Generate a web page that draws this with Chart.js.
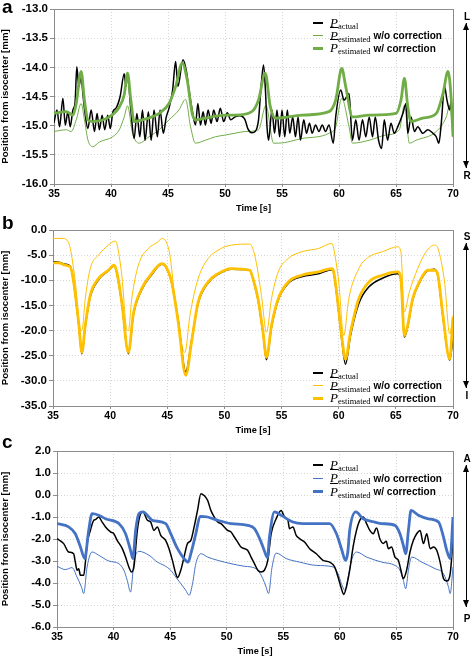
<!DOCTYPE html>
<html lang="en">
  <head>
    <meta charset="utf-8" />
    <title>Position from isocenter</title>
    <script src="https://cdn.jsdelivr.net/npm/chart.js/dist/chart.umd.min.js"></script>
    <style>
      * {
        margin: 0;
        padding: 0;
      }
      body {
        width: 472px;
        height: 657px;
        position: relative;
        overflow: hidden;
        background: #fff;
        font-family: "Liberation Sans", Arial, sans-serif;
        color: #000;
      }
      canvas {
        position: absolute;
        left: 0;
      }
      .tag {
        position: absolute;
        left: 2px;
        font-weight: bold;
        font-size: 19px;
        line-height: 1;
      }
      .dir {
        position: absolute;
        left: 461px;
        width: 12px;
        text-align: center;
        font-weight: bold;
        font-size: 10px;
        line-height: 1;
      }
      .arrow {
        position: absolute;
        left: 466px;
        width: 1px;
        background: #000;
      }
      .arrow::before,
      .arrow::after {
        content: "";
        position: absolute;
        left: -3px;
        border-left: 3.5px solid transparent;
        border-right: 3.5px solid transparent;
      }
      .arrow::before {
        top: 0;
        border-bottom: 7px solid #000;
      }
      .arrow::after {
        bottom: 0;
        border-top: 7px solid #000;
      }
      .legend {
        position: absolute;
        left: 313px;
        font-weight: bold;
        font-size: 10px;
      }
      .legend .row {
        display: flex;
        align-items: center;
        white-space: nowrap;
        height: 12.5px;
      }
      .sw {
        width: 10px;
        margin-right: 7px;
      }
      .p {
        font-family: "Liberation Serif", serif;
        font-style: italic;
        font-weight: normal;
        font-size: 13px;
      }
      .bar {
        text-decoration: overline;
      }
      .sub {
        font-family: "Liberation Serif", serif;
        font-weight: normal;
        font-size: 8.5px;
        position: relative;
        top: 3px;
      }
      .txt {
        margin-left: 3px;
      }
    </style>
  </head>
  <body>
    <canvas id="chartA" width="472" height="215" style="top: 0px"></canvas>
    <canvas id="chartB" width="472" height="222" style="top: 215px"></canvas>
    <canvas id="chartC" width="472" height="220" style="top: 437px"></canvas>

    <div class="tag" style="top: -3px">a</div>
    <div class="tag" style="top: 213px">b</div>
    <div class="tag" style="top: 432px">c</div>

    <div class="dir" style="top: 12px">L</div>
    <div class="arrow" style="top: 23px; height: 145px"></div>
    <div class="dir" style="top: 171px">R</div>
    <div class="dir" style="top: 232px">S</div>
    <div class="arrow" style="top: 243px; height: 145px"></div>
    <div class="dir" style="top: 391px">I</div>
    <div class="dir" style="top: 454px">A</div>
    <div class="arrow" style="top: 465px; height: 142px"></div>
    <div class="dir" style="top: 614px">P</div>

    <div class="legend" id="legendA" style="top: 17px"></div>
    <div class="legend" id="legendB" style="top: 367px"></div>
    <div class="legend" id="legendC" style="top: 458px"></div>

    <script>
      // [time s, position mm]
      const aActual = [[35.0,-14.95],[35.26,-14.73],[35.49,-15.02],[35.78,-14.53],[35.99,-14.99],[36.22,-14.76],[36.42,-15.02],[36.66,-14.73],[36.85,-14.6],[37.0,-13.99],[37.18,-14.33],[37.38,-14.16],[37.53,-14.45],[37.7,-14.75],[37.97,-15.05],[38.26,-14.73],[38.55,-15.1],[38.78,-14.79],[38.98,-15.07],[39.22,-14.82],[39.45,-15.07],[39.71,-14.82],[39.94,-15.05],[40.17,-14.76],[40.44,-14.7],[40.8,-14.5],[41.16,-14.11],[41.31,-14.33],[41.45,-14.13],[41.74,-14.73],[42.03,-15.22],[42.27,-14.79],[42.53,-15.19],[42.76,-14.73],[42.99,-15.25],[43.28,-14.76],[43.52,-15.25],[43.78,-14.73],[44.07,-15.19],[44.3,-14.73],[44.59,-15.13],[44.85,-14.85],[45.09,-14.7],[45.4,-14.4],[45.67,-13.9],[45.87,-14.33],[46.31,-13.87],[46.6,-14.05],[46.85,-14.4],[47.12,-14.73],[47.41,-14.99],[47.62,-14.62],[47.85,-14.99],[48.08,-14.76],[48.28,-14.99],[48.52,-14.73],[48.78,-14.96],[49.01,-14.73],[49.3,-14.93],[49.59,-14.7],[49.88,-14.93],[50.2,-14.78],[50.5,-14.9],[50.88,-14.85],[51.3,-14.83],[51.76,-14.9],[52.0,-15.05],[52.35,-15.12],[52.65,-15.1],[52.94,-14.9],[53.1,-14.5],[53.38,-13.96],[53.55,-14.4],[53.68,-15.0],[53.82,-15.25],[54.12,-14.73],[54.35,-15.13],[54.56,-14.73],[54.79,-15.19],[55.0,-14.73],[55.24,-15.19],[55.47,-14.73],[55.68,-15.13],[55.94,-14.85],[56.18,-15.19],[56.41,-14.85],[56.62,-15.25],[56.91,-14.9],[57.15,-15.13],[57.41,-14.96],[57.65,-15.13],[57.94,-14.99],[58.24,-15.1],[58.53,-14.99],[58.82,-15.1],[59.12,-14.99],[59.5,-15.3],[59.71,-14.85],[60.15,-14.39],[60.44,-14.56],[60.88,-14.45],[61.18,-15.25],[61.47,-14.9],[61.76,-15.25],[62.06,-14.9],[62.35,-15.19],[62.65,-14.85],[62.94,-15.19],[63.18,-14.85],[63.47,-15.25],[63.74,-15.39],[63.97,-14.9],[64.26,-15.25],[64.56,-14.96],[64.85,-15.13],[65.15,-15.02],[65.59,-14.8],[65.88,-14.62],[66.03,-15.13],[66.32,-14.85],[66.62,-15.1],[66.91,-15.02],[67.35,-15.13],[67.79,-15.07],[68.24,-15.13],[68.53,-15.19],[68.76,-15.3],[68.97,-14.96],[69.26,-14.33],[69.47,-14.56],[69.71,-14.73],[69.85,-14.56],[70.0,-15.07]];
      const aNoCorr = [[35.0,-15.1],[36.08,-15.07],[36.51,-15.1],[36.95,-14.9],[37.38,-14.62],[37.67,-14.9],[37.97,-15.24],[38.4,-15.36],[38.98,-15.28],[40.15,-15.19],[40.73,-15.07],[41.16,-14.85],[41.45,-14.66],[41.89,-15.13],[42.47,-15.3],[43.34,-15.19],[44.22,-15.07],[45.09,-14.9],[45.96,-14.73],[46.54,-14.55],[46.98,-15.02],[47.41,-15.3],[48.28,-15.25],[49.16,-15.19],[50.03,-15.16],[50.88,-15.13],[51.76,-15.1],[52.94,-15.07],[53.59,-14.65],[54.26,-15.3],[54.71,-15.3],[56.76,-15.22],[59.12,-15.13],[59.71,-15.02],[60.24,-14.53],[60.88,-15.02],[61.18,-15.3],[62.65,-15.25],[64.12,-15.16],[65.29,-15.07],[65.74,-14.65],[66.18,-15.3],[66.76,-15.25],[68.53,-15.1],[69.41,-14.85],[69.71,-14.65],[70.0,-15.19]];
      const aCorr = [[35.0,-14.79],[36.08,-14.76],[36.66,-14.82],[36.95,-14.62],[37.38,-14.07],[37.67,-14.56],[37.97,-14.9],[38.4,-14.93],[39.85,-14.85],[40.73,-14.68],[41.16,-14.47],[41.45,-14.1],[41.74,-14.56],[42.03,-14.93],[42.76,-14.9],[44.22,-14.79],[45.09,-14.62],[45.67,-14.33],[46.25,-13.93],[46.69,-14.22],[47.12,-14.79],[47.41,-14.9],[48.28,-14.87],[50.03,-14.82],[50.88,-14.82],[52.35,-14.76],[52.94,-14.56],[53.53,-14.1],[53.97,-14.67],[54.41,-14.87],[56.76,-14.82],[59.12,-14.76],[59.71,-14.56],[60.24,-14.02],[60.59,-14.33],[61.18,-14.85],[62.65,-14.82],[65.0,-14.79],[65.44,-14.56],[65.74,-14.19],[66.03,-14.67],[66.32,-14.93],[67.35,-14.87],[68.53,-14.79],[69.12,-14.45],[69.56,-14.07],[69.85,-14.56],[70.0,-15.19]];

      const bActual = [[35.0,-6.3],[35.5,-6.4],[36.08,-6.8],[36.51,-7.2],[36.81,-10.5],[37.24,-18.6],[37.53,-24.6],[37.82,-19.2],[38.26,-13.3],[38.98,-9.9],[39.85,-8.1],[40.35,-7.1],[40.58,-8.5],[41.02,-14.6],[41.6,-24.6],[42.03,-16.9],[42.76,-11.9],[43.63,-8.9],[44.51,-6.8],[44.8,-7.1],[45.38,-10.5],[45.96,-18.0],[46.62,-28.2],[47.12,-22.0],[47.7,-14.6],[48.58,-10.5],[49.45,-8.8],[50.61,-7.8],[52.21,-7.9],[52.5,-9.8],[52.94,-13.9],[53.38,-20.6],[53.68,-25.8],[54.12,-19.3],[54.71,-13.9],[55.59,-10.6],[56.76,-9.3],[58.24,-8.7],[59.41,-7.9],[59.56,-8.5],[59.85,-13.3],[60.29,-22.2],[60.59,-26.7],[61.03,-21.0],[61.76,-14.6],[62.65,-11.3],[63.82,-9.6],[65.15,-8.7],[65.44,-9.9],[65.74,-21.3],[66.03,-19.3],[66.47,-13.9],[67.06,-10.5],[67.79,-8.1],[68.38,-7.8],[68.68,-9.1],[69.12,-17.3],[69.71,-25.9],[70.0,-21.5]];
      const bNoCorr = [[35.0,-1.67],[35.78,-1.67],[36.22,-2.0],[36.51,-3.67],[36.95,-10.33],[37.38,-19.67],[37.53,-20.0],[37.82,-13.67],[38.26,-7.67],[38.98,-5.0],[39.85,-3.0],[40.44,-2.2],[40.58,-2.67],[41.02,-9.0],[41.45,-19.67],[41.6,-20.0],[41.89,-13.67],[42.47,-7.0],[43.34,-3.67],[44.22,-2.33],[44.51,-1.67],[44.8,-2.0],[45.23,-5.0],[45.67,-13.67],[46.4,-24.0],[46.54,-24.33],[46.98,-17.0],[47.7,-9.67],[48.58,-5.67],[49.45,-4.0],[50.61,-3.0],[52.21,-2.8],[52.65,-5.0],[53.24,-13.0],[53.68,-20.33],[54.12,-13.67],[54.71,-8.33],[55.59,-5.67],[56.76,-4.33],[58.24,-3.67],[59.41,-2.67],[59.56,-3.67],[60.0,-10.33],[60.44,-21.0],[60.88,-13.67],[61.76,-7.67],[62.65,-5.33],[63.82,-4.33],[65.15,-3.33],[65.44,-4.33],[65.74,-16.33],[66.18,-12.33],[66.91,-7.67],[67.65,-4.33],[68.38,-3.0],[68.68,-3.67],[69.26,-10.33],[69.71,-20.67],[70.0,-17.0]];
      const bCorr = [[35.0,-6.53],[35.5,-6.53],[36.08,-7.0],[36.51,-7.33],[36.81,-10.33],[37.24,-18.33],[37.53,-24.33],[37.82,-19.0],[38.26,-13.0],[38.98,-9.67],[39.85,-8.0],[40.35,-7.0],[40.58,-8.33],[41.02,-14.33],[41.6,-24.33],[42.03,-16.67],[42.76,-11.67],[43.63,-8.67],[44.51,-6.67],[44.8,-7.0],[45.38,-10.33],[45.96,-18.33],[46.62,-28.9],[47.12,-22.33],[47.7,-14.33],[48.58,-10.33],[49.45,-8.67],[50.61,-7.67],[52.21,-8.0],[52.5,-9.67],[52.94,-13.67],[53.38,-20.33],[53.68,-25.33],[54.12,-19.0],[54.71,-13.67],[55.59,-10.33],[56.76,-9.0],[58.24,-8.33],[59.41,-7.67],[59.56,-8.33],[59.85,-13.0],[60.29,-21.67],[60.59,-25.67],[61.03,-20.33],[61.76,-13.67],[62.65,-10.33],[63.82,-9.0],[65.15,-8.33],[65.44,-9.67],[65.74,-21.0],[66.03,-19.0],[66.47,-13.67],[67.06,-10.33],[67.79,-8.0],[68.38,-8.0],[68.68,-9.0],[69.12,-17.0],[69.71,-25.67],[70.0,-17.33]];

      const cActual = [[35.0,-1.98],[35.59,-2.21],[36.03,-2.59],[36.47,-2.67],[36.62,-3.05],[36.77,-3.42],[36.92,-3.35],[37.07,-3.65],[37.36,-3.65],[37.51,-3.05],[37.66,-2.21],[37.95,-1.61],[38.25,-1.15],[38.4,-1.12],[38.69,-1.0],[38.99,-1.23],[39.29,-1.45],[39.73,-1.68],[40.02,-1.76],[40.32,-2.06],[40.77,-2.44],[41.06,-2.82],[41.35,-3.27],[41.59,-3.5],[41.8,-3.27],[42.1,-1.61],[42.39,-0.85],[42.6,-0.77],[42.99,-1.15],[43.28,-1.23],[43.57,-1.61],[43.87,-1.45],[44.17,-1.83],[44.6,-2.06],[44.9,-2.44],[45.2,-2.97],[45.5,-3.58],[45.65,-3.76],[45.94,-3.42],[46.23,-2.82],[46.53,-2.21],[46.83,-2.06],[47.12,-1.45],[47.42,-0.7],[47.72,0.06],[48.0,-0.02],[48.31,-0.24],[48.6,-0.7],[48.9,-1.0],[49.2,-1.23],[49.49,-1.3],[49.78,-1.45],[50.08,-1.61],[50.38,-1.68],[50.67,-1.91],[50.97,-2.14],[51.26,-2.36],[51.56,-2.44],[51.86,-2.52],[52.15,-2.82],[52.45,-3.12],[52.75,-3.42],[53.04,-3.5],[53.33,-3.42],[53.63,-2.97],[53.93,-1.76],[54.37,-1.08],[54.81,-0.7],[55.11,-1.0],[55.41,-1.15],[55.55,-1.53],[55.85,-1.45],[56.14,-1.83],[56.44,-1.98],[56.88,-2.14],[57.33,-2.44],[57.92,-2.67],[58.51,-2.97],[59.1,-3.05],[59.54,-3.27],[59.84,-3.73],[60.14,-4.26],[60.34,-4.52],[60.58,-4.18],[60.87,-3.42],[61.17,-2.36],[61.47,-1.61],[61.76,-1.15],[62.06,-1.0],[62.36,-1.3],[62.65,-1.61],[62.95,-1.76],[63.24,-1.5],[63.54,-2.0],[63.84,-2.2],[64.1,-2.1],[64.28,-2.44],[64.57,-2.36],[64.87,-2.82],[65.17,-2.97],[65.4,-3.42],[65.61,-3.8],[65.9,-3.42],[66.2,-2.59],[66.5,-2.06],[66.79,-1.76],[67.09,-1.61],[67.39,-2.21],[67.68,-1.76],[67.98,-2.44],[68.27,-2.36],[68.57,-2.52],[68.86,-3.05],[69.16,-3.8],[69.45,-3.91],[69.75,-3.58],[70.0,-2.06]];
      const cNoCorr = [[35.0,-3.24],[35.74,-3.39],[36.33,-3.3],[36.77,-3.73],[37.16,-4.18],[37.36,-4.48],[37.66,-3.27],[38.1,-2.59],[38.69,-2.74],[39.58,-3.0],[40.47,-3.12],[40.91,-3.42],[41.21,-3.88],[41.5,-4.41],[41.8,-3.05],[42.24,-2.56],[43.13,-2.74],[43.87,-3.05],[44.46,-3.2],[45.05,-3.42],[45.5,-3.73],[45.94,-4.03],[46.38,-4.33],[46.68,-4.56],[46.98,-4.03],[47.27,-3.12],[47.72,-2.67],[48.31,-2.82],[49.2,-2.97],[50.38,-3.12],[51.56,-3.24],[52.15,-3.27],[52.75,-3.42],[53.19,-3.8],[53.48,-4.18],[53.7,-4.48],[54.0,-3.3],[54.37,-2.64],[55.26,-2.89],[56.44,-3.05],[57.92,-3.2],[59.4,-3.27],[59.84,-3.58],[60.14,-4.03],[60.45,-4.33],[60.73,-3.73],[61.03,-2.97],[61.47,-2.59],[62.36,-2.82],[63.69,-3.05],[64.87,-3.2],[65.31,-3.42],[65.61,-3.88],[65.82,-4.26],[66.06,-3.42],[66.35,-2.82],[67.24,-3.05],[68.42,-3.35],[69.16,-3.58],[69.6,-4.18],[69.75,-4.48],[70.0,-3.27]];
      const cCorr = [[35.0,-1.3],[36.03,-1.45],[36.62,-1.76],[37.07,-2.36],[37.45,-2.89],[37.8,-1.61],[38.1,-0.85],[38.69,-0.92],[39.29,-1.08],[40.47,-1.3],[41.06,-1.76],[41.5,-2.52],[41.71,-2.89],[41.95,-1.61],[42.24,-0.85],[42.6,-0.77],[43.43,-1.15],[44.61,-1.3],[45.05,-1.76],[45.65,-2.44],[46.23,-2.89],[46.59,-3.05],[46.83,-2.67],[47.27,-1.76],[47.65,-0.97],[48.31,-1.0],[49.2,-1.15],[50.38,-1.3],[51.86,-1.38],[52.45,-1.53],[53.04,-2.14],[53.3,-2.5],[53.6,-2.85],[53.78,-1.9],[54.22,-0.77],[54.81,-0.92],[55.85,-1.23],[56.7,-1.3],[58.0,-1.3],[59.1,-1.3],[59.7,-1.76],[60.14,-2.44],[60.5,-2.97],[60.7,-2.6],[60.87,-1.6],[61.41,-0.77],[62.06,-1.08],[63.09,-1.23],[63.69,-1.3],[64.87,-1.38],[65.31,-1.76],[65.61,-2.29],[65.82,-2.67],[66.06,-1.61],[66.29,-0.7],[66.94,-0.92],[67.83,-1.08],[68.72,-1.23],[69.16,-1.91],[69.45,-2.52],[69.75,-2.89],[70.0,-1.0]];

      const GREEN = "#70ad47";
      const GOLD = "#ffc000";
      const BLUE = "#4472c4";
      const AXIS = "#8c8c8c";
      const FONT = "'Liberation Sans', Arial, sans-serif";

      // solid box round the plot area, drawn under the lines
      const framePlugin = {
        id: "frame",
        beforeDatasetsDraw(chart) {
          const { ctx, chartArea: a } = chart;
          ctx.save();
          ctx.strokeStyle = AXIS;
          ctx.lineWidth = 1;
          ctx.strokeRect(Math.round(a.left) + 0.5, Math.round(a.top) + 0.5, Math.round(a.right - a.left), Math.round(a.bottom - a.top));
          ctx.restore();
        },
      };

      const toPoints = (rows) => rows.map(([x, y]) => ({ x: x, y: y }));

      function makeChart(id, color, series, y, pad) {
        const [actual, noCorr, corr] = series;
        return new Chart(document.getElementById(id), {
          type: "line",
          data: {
            datasets: [
              { data: toPoints(corr), borderColor: color, borderWidth: 2.8, order: 0 },
              { data: toPoints(actual), borderColor: "#000", borderWidth: 1.5, order: 1 },
              { data: toPoints(noCorr), borderColor: color, borderWidth: 1, order: 2 },
            ],
          },
          options: {
            responsive: false,
            animation: false,
            events: [],
            layout: { padding: { left: 0, top: pad.top, right: 19, bottom: pad.bottom } },
            elements: {
              point: { radius: 0 },
              line: { cubicInterpolationMode: "monotone", fill: false, borderJoinStyle: "round" },
            },
            plugins: { legend: { display: false }, tooltip: { enabled: false } },
            scales: {
              x: {
                type: "linear",
                min: 35,
                max: 70,
                afterFit: (s) => { s.height = 30; },
                ticks: {
                  stepSize: 5,
                  autoSkip: false,
                  maxRotation: 0,
                  padding: 1,
                  color: "#000",
                  font: { family: FONT, size: 10.5, weight: "bold" },
                },
                grid: { color: "#d6d6d6", tickColor: AXIS, tickLength: 3 },
                border: { color: AXIS, dash: [1, 2] },
                title: {
                  display: true,
                  text: "Time [s]",
                  color: "#000",
                  padding: { top: 0, bottom: 0 },
                  font: { family: FONT, size: 9.2, weight: "bold" },
                },
              },
              y: {
                min: y.min,
                max: y.max,
                afterFit: (s) => { s.width = pad.left; },
                ticks: {
                  stepSize: y.step,
                  autoSkip: false,
                  padding: 2,
                  color: "#000",
                  font: { family: FONT, size: 11.5, weight: "bold" },
                  callback: (v) => v.toFixed(1),
                },
                grid: { color: "#d6d6d6", tickColor: AXIS, tickLength: 4 },
                border: { color: AXIS, dash: [1, 2] },
                title: {
                  display: true,
                  text: "Position from isocenter [mm]",
                  color: "#000",
                  padding: { top: 0, bottom: 0 },
                  font: { family: FONT, size: 9.7, weight: "bold" },
                },
              },
            },
          },
          plugins: [framePlugin],
        });
      }

      makeChart("chartA", GREEN, [aActual, aNoCorr, aCorr], { min: -16, max: -13, step: 0.5 }, { left: 54, top: 9, bottom: 1 });
      makeChart("chartB", GOLD, [bActual, bNoCorr, bCorr], { min: -35, max: 0, step: 5 }, { left: 53, top: 15, bottom: 1 });
      makeChart("chartC", BLUE, [cActual, cNoCorr, cCorr], { min: -6, max: 2, step: 1 }, { left: 57, top: 14, bottom: 0 });

      // legends with math-style labels
      const fillLegend = (id, color, rowHeight) => {
        const box = document.getElementById(id);
        const rows = [
          { c: "#000", w: 2, p: '<span class="p">P</span><span class="sub">actual</span>', t: "" },
          { c: color, w: 1, p: '<span class="p bar">P</span><span class="sub">estimated</span>', t: "w/o correction" },
          { c: color, w: 3, p: '<span class="p bar">P</span><span class="sub">estimated</span>', t: "w/ correction" },
        ];
        rows.forEach((r) => {
          const row = document.createElement("div");
          row.className = "row";
          row.style.height = rowHeight + "px";
          row.innerHTML = `<span class="sw" style="height:${r.w}px;background:${r.c}"></span>${r.p}<span class="txt">${r.t}</span>`;
          box.appendChild(row);
        });
      };
      fillLegend("legendA", GREEN, 12.5);
      fillLegend("legendB", GOLD, 12.5);
      fillLegend("legendC", BLUE, 13.5);
    </script>
  </body>
</html>
